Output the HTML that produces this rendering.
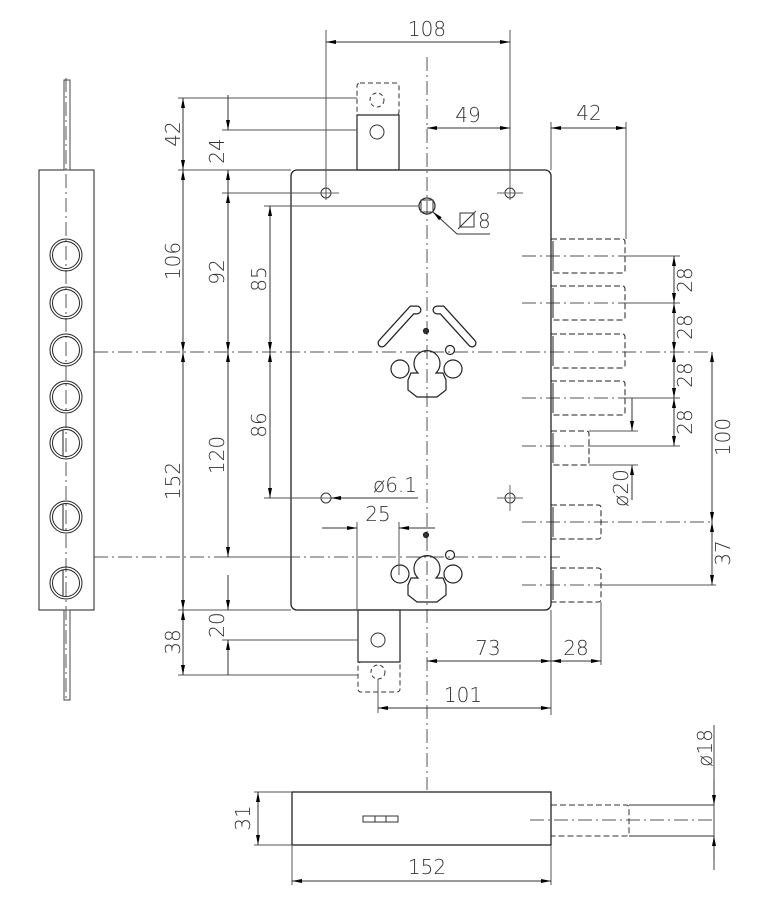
<!DOCTYPE html>
<html><head><meta charset="utf-8"><style>
html,body{margin:0;padding:0;background:#fff}
svg{display:block}
text{font-family:"DejaVu Sans","Liberation Sans",sans-serif;font-size:20px;fill:#333;font-weight:200}
</style></head><body>
<svg width="768" height="904" viewBox="0 0 768 904" xmlns="http://www.w3.org/2000/svg">
<defs>
<marker id="a" viewBox="0 0 10 4" refX="10" refY="2" markerWidth="10" markerHeight="4" markerUnits="userSpaceOnUse" orient="auto-start-reverse"><path d="M0,0L10,2L0,4z" fill="#000"/></marker>
</defs>
<g fill="none" stroke="#333" stroke-width="1">
<g stroke-dasharray="14,4,2,4" stroke="#555">
<line x1="427" y1="57" x2="427" y2="790"/>
<line x1="94" y1="352" x2="712" y2="352"/>
<line x1="94" y1="557" x2="560" y2="557"/>
<line x1="66" y1="78" x2="66" y2="700"/>
<line x1="522" y1="256" x2="625" y2="256"/>
<line x1="522" y1="303" x2="625" y2="303"/>
<line x1="522" y1="398" x2="625" y2="398"/>
<line x1="522" y1="446" x2="590" y2="446"/>
<line x1="522" y1="522" x2="712" y2="522"/>
<line x1="522" y1="585" x2="712" y2="585"/>
<line x1="530" y1="820" x2="714" y2="820"/>
</g>
<rect x="39" y="170" width="55" height="440" stroke="#222"/>
<rect x="64" y="80" width="6" height="90" stroke="#444"/>
<rect x="64" y="610" width="6" height="90" stroke="#444"/>
<g stroke="#222">
<circle cx="66" cy="255" r="16"/><circle cx="66" cy="255" r="13.5"/>
<circle cx="66" cy="303" r="16"/><circle cx="66" cy="303" r="13.5"/>
<circle cx="66" cy="350" r="16"/><circle cx="66" cy="350" r="13.5"/>
<circle cx="66" cy="397" r="16"/><circle cx="66" cy="397" r="13.5"/>
<circle cx="66" cy="443" r="16"/><circle cx="66" cy="443" r="13.5"/><line x1="63" y1="430" x2="63" y2="456"/>
<circle cx="66" cy="517" r="16"/><circle cx="66" cy="517" r="13.5"/><line x1="63" y1="504" x2="63" y2="530"/>
<circle cx="66" cy="583" r="16"/><circle cx="66" cy="583" r="13.5"/><line x1="63" y1="570" x2="63" y2="596"/>
</g>
<rect x="291" y="170" width="260" height="440" rx="6" stroke="#222" stroke-width="1.3"/>
<rect x="357" y="83" width="42" height="32" rx="3" stroke-dasharray="5,3"/>
<rect x="357" y="115" width="42" height="55" stroke-width="1.3"/>
<circle cx="377" cy="100" r="7" stroke-dasharray="4,3"/><circle cx="377" cy="132" r="7"/>
<rect x="358" y="610" width="42" height="52" stroke-width="1.3"/>
<rect x="358" y="662" width="42" height="30" rx="3" stroke-dasharray="5,3"/>
<circle cx="378" cy="640" r="7"/><circle cx="378" cy="672" r="7" stroke-dasharray="4,3"/>
<circle cx="326" cy="193" r="5"/><circle cx="510" cy="193" r="5"/>
<circle cx="326" cy="498" r="5"/><circle cx="510" cy="498" r="5"/>
<g stroke="#666"><line x1="313" y1="193" x2="339" y2="193"/><line x1="497" y1="193" x2="523" y2="193"/><line x1="497" y1="498" x2="523" y2="498"/><line x1="510" y1="485" x2="510" y2="511"/><line x1="313" y1="498" x2="333" y2="498"/></g>
<circle cx="427" cy="206" r="8" stroke-width="1.3"/><rect x="421" y="200" width="12" height="12"/>
<g stroke="#222" stroke-width="9" stroke-linecap="round"><path d="M417,310 L412,310 L382,343"/><path d="M437,310 L442,310 L472,343"/></g>
<g stroke="#fff" stroke-width="6.5" stroke-linecap="round"><path d="M417,310 L412,310 L382,343"/><path d="M437,310 L442,310 L472,343"/></g>
<g stroke="#222" stroke-width="1.2">
<path d="M418,373 A13,13 0 1 1 436,373 L443,373 L446,380 L446,390 L437,397 L417,397 L408,390 L408,380 L411,373 Z"/>
<circle cx="400" cy="369" r="9"/><circle cx="453" cy="369" r="9"/>
<circle cx="450" cy="350" r="4.5"/><circle cx="426" cy="331" r="2.5" fill="#333"/>
</g>
<g stroke="#222" stroke-width="1.2">
<path d="M418,578 A13,13 0 1 1 436,578 L443,578 L446,585 L446,595 L437,602 L417,602 L408,595 L408,585 L411,578 Z"/>
<circle cx="400" cy="574" r="9"/><circle cx="453" cy="574" r="9"/>
<circle cx="450" cy="555" r="4.5"/><circle cx="426" cy="535" r="2.5" fill="#333"/>
</g>
<g stroke="#222" stroke-dasharray="6,3">
<path d="M551,239H622Q625,239 625,242V270Q625,273 622,273H551"/>
<path d="M551,286H622Q625,286 625,289V317Q625,320 622,320H551"/>
<path d="M551,334H622Q625,334 625,337V365Q625,368 622,368H551"/>
<path d="M551,381H622Q625,381 625,384V412Q625,415 622,415H551"/>
<path d="M551,431H586Q589,431 589,434V462Q589,465 586,465H551"/>
<path d="M551,505H598Q601,505 601,508V536Q601,539 598,539H551"/>
<path d="M551,568H598Q601,568 601,571V599Q601,602 598,602H551"/>
</g>
<g stroke="#222"><line x1="553" y1="241" x2="553" y2="271"/><line x1="553" y1="288" x2="553" y2="318"/><line x1="553" y1="336" x2="553" y2="366"/><line x1="553" y1="383" x2="553" y2="413"/><line x1="553" y1="433" x2="553" y2="463"/><line x1="553" y1="507" x2="553" y2="537"/><line x1="553" y1="570" x2="553" y2="600"/></g>
<rect x="292" y="792" width="259" height="53" stroke="#222" stroke-width="1.3"/>
<path d="M551,805H626Q629,805 629,808V833Q629,836 626,836H551" stroke-dasharray="6,3"/>
<line x1="629" y1="805" x2="714" y2="805"/><line x1="629" y1="836" x2="714" y2="836"/>
<rect x="363" y="816" width="35" height="6"/><line x1="375" y1="816" x2="375" y2="822"/><line x1="386" y1="816" x2="386" y2="822"/>
<g stroke="#555">
<line x1="326" y1="30" x2="326" y2="200"/><line x1="510" y1="30" x2="510" y2="200"/>
<line x1="551" y1="122" x2="551" y2="170"/><line x1="626" y1="122" x2="626" y2="239"/>
<line x1="178" y1="98" x2="357" y2="98"/><line x1="222" y1="130" x2="357" y2="130"/>
<line x1="178" y1="170" x2="291" y2="170"/><line x1="222" y1="193" x2="321" y2="193"/>
<line x1="264" y1="206" x2="419" y2="206"/><line x1="264" y1="498" x2="321" y2="498"/>
<line x1="178" y1="610" x2="291" y2="610"/><line x1="222" y1="640" x2="358" y2="640"/>
<line x1="178" y1="675" x2="358" y2="675"/><line x1="222" y1="557" x2="291" y2="557"/>
<line x1="357" y1="522" x2="357" y2="610"/><line x1="399" y1="522" x2="399" y2="575"/>
<line x1="625" y1="256" x2="680" y2="256"/><line x1="625" y1="303" x2="680" y2="303"/>
<line x1="625" y1="398" x2="680" y2="398"/><line x1="589" y1="446" x2="680" y2="446"/>
<line x1="589" y1="431" x2="638" y2="431"/><line x1="589" y1="465" x2="638" y2="465"/>
<line x1="601" y1="585" x2="716" y2="585"/>
<line x1="551" y1="610" x2="551" y2="715"/><line x1="601" y1="602" x2="601" y2="665"/>
<line x1="378" y1="679" x2="378" y2="713"/>
<line x1="254" y1="792" x2="292" y2="792"/><line x1="254" y1="845" x2="292" y2="845"/>
<line x1="292" y1="845" x2="292" y2="885"/><line x1="551" y1="845" x2="551" y2="885"/>
<line x1="714" y1="725" x2="714" y2="870" stroke="#444"/>
</g>
<g stroke="#333">
<line x1="326" y1="42" x2="510" y2="42" marker-start="url(#a)" marker-end="url(#a)"/>
<line x1="427" y1="128" x2="510" y2="128" marker-start="url(#a)" marker-end="url(#a)"/>
<line x1="551" y1="128" x2="626" y2="128" marker-start="url(#a)" marker-end="url(#a)"/>
<path d="M433,212 L457,234 L490,234" marker-start="url(#a)"/>
<line x1="183" y1="98" x2="183" y2="170" marker-start="url(#a)" marker-end="url(#a)"/>
<line x1="183" y1="170" x2="183" y2="352" marker-start="url(#a)" marker-end="url(#a)"/>
<line x1="183" y1="352" x2="183" y2="610" marker-start="url(#a)" marker-end="url(#a)"/>
<line x1="183" y1="610" x2="183" y2="675" marker-start="url(#a)" marker-end="url(#a)"/>
<line x1="228" y1="95" x2="228" y2="130" marker-end="url(#a)"/>
<line x1="228" y1="170" x2="228" y2="193" marker-start="url(#a)"/>
<line x1="228" y1="193" x2="228" y2="352" marker-start="url(#a)" marker-end="url(#a)"/>
<line x1="228" y1="352" x2="228" y2="557" marker-start="url(#a)" marker-end="url(#a)"/>
<line x1="228" y1="575" x2="228" y2="610" marker-end="url(#a)"/>
<line x1="228" y1="640" x2="228" y2="675" marker-start="url(#a)"/>
<line x1="270" y1="206" x2="270" y2="352" marker-start="url(#a)" marker-end="url(#a)"/>
<line x1="270" y1="352" x2="270" y2="498" marker-start="url(#a)" marker-end="url(#a)"/>
<line x1="418" y1="498" x2="331" y2="498" marker-end="url(#a)"/>
<line x1="322" y1="528" x2="357" y2="528" marker-end="url(#a)"/>
<line x1="435" y1="528" x2="399" y2="528" marker-end="url(#a)"/>
<line x1="674" y1="256" x2="674" y2="303" marker-start="url(#a)" marker-end="url(#a)"/>
<line x1="674" y1="303" x2="674" y2="352" marker-start="url(#a)" marker-end="url(#a)"/>
<line x1="674" y1="352" x2="674" y2="398" marker-start="url(#a)" marker-end="url(#a)"/>
<line x1="674" y1="398" x2="674" y2="446" marker-start="url(#a)" marker-end="url(#a)"/>
<line x1="712" y1="352" x2="712" y2="522" marker-start="url(#a)" marker-end="url(#a)"/>
<line x1="712" y1="522" x2="712" y2="585" marker-start="url(#a)" marker-end="url(#a)"/>
<line x1="632" y1="398" x2="632" y2="431" marker-end="url(#a)"/>
<line x1="632" y1="500" x2="632" y2="465" marker-end="url(#a)"/>
<line x1="427" y1="661" x2="551" y2="661" marker-start="url(#a)" marker-end="url(#a)"/>
<line x1="551" y1="661" x2="601" y2="661" marker-start="url(#a)" marker-end="url(#a)"/>
<line x1="378" y1="708" x2="551" y2="708" marker-start="url(#a)" marker-end="url(#a)"/>
<line x1="258" y1="792" x2="258" y2="845" marker-start="url(#a)" marker-end="url(#a)"/>
<line x1="292" y1="881" x2="551" y2="881" marker-start="url(#a)" marker-end="url(#a)"/>
<line x1="714" y1="780" x2="714" y2="805" marker-end="url(#a)"/>
<line x1="714" y1="860" x2="714" y2="836" marker-end="url(#a)"/>
<!-- square symbol for 8 -->
<rect x="460" y="213" width="14" height="14" stroke="#333"/><line x1="458" y1="229" x2="476" y2="211"/>
</g>
</g>
<text x="427" y="36" text-anchor="middle">108</text>
<text x="468" y="122" text-anchor="middle">49</text>
<text x="589" y="120" text-anchor="middle">42</text>
<text x="478" y="228">8</text>
<text x="395" y="492" text-anchor="middle">ø6.1</text>
<text x="378" y="521" text-anchor="middle">25</text>
<text x="488" y="655" text-anchor="middle">73</text>
<text x="576" y="655" text-anchor="middle">28</text>
<text x="463" y="702" text-anchor="middle">101</text>
<text x="427" y="874" text-anchor="middle">152</text>
<g text-anchor="middle">
<text transform="translate(180,134) rotate(-90)">42</text>
<text transform="translate(180,261) rotate(-90)">106</text>
<text transform="translate(180,481) rotate(-90)">152</text>
<text transform="translate(180,642) rotate(-90)">38</text>
<text transform="translate(224,151) rotate(-90)">24</text>
<text transform="translate(224,272) rotate(-90)">92</text>
<text transform="translate(224,455) rotate(-90)">120</text>
<text transform="translate(224,625) rotate(-90)">20</text>
<text transform="translate(266,279) rotate(-90)">85</text>
<text transform="translate(266,425) rotate(-90)">86</text>
<text transform="translate(692,280) rotate(-90)">28</text>
<text transform="translate(692,327) rotate(-90)">28</text>
<text transform="translate(692,375) rotate(-90)">28</text>
<text transform="translate(692,422) rotate(-90)">28</text>
<text transform="translate(730,437) rotate(-90)">100</text>
<text transform="translate(730,553) rotate(-90)">37</text>
<text transform="translate(628,488) rotate(-90)">ø20</text>
<text transform="translate(712,748) rotate(-90)">ø18</text>
<text transform="translate(250,818) rotate(-90)">31</text>
</g>
</svg>
</body></html>
